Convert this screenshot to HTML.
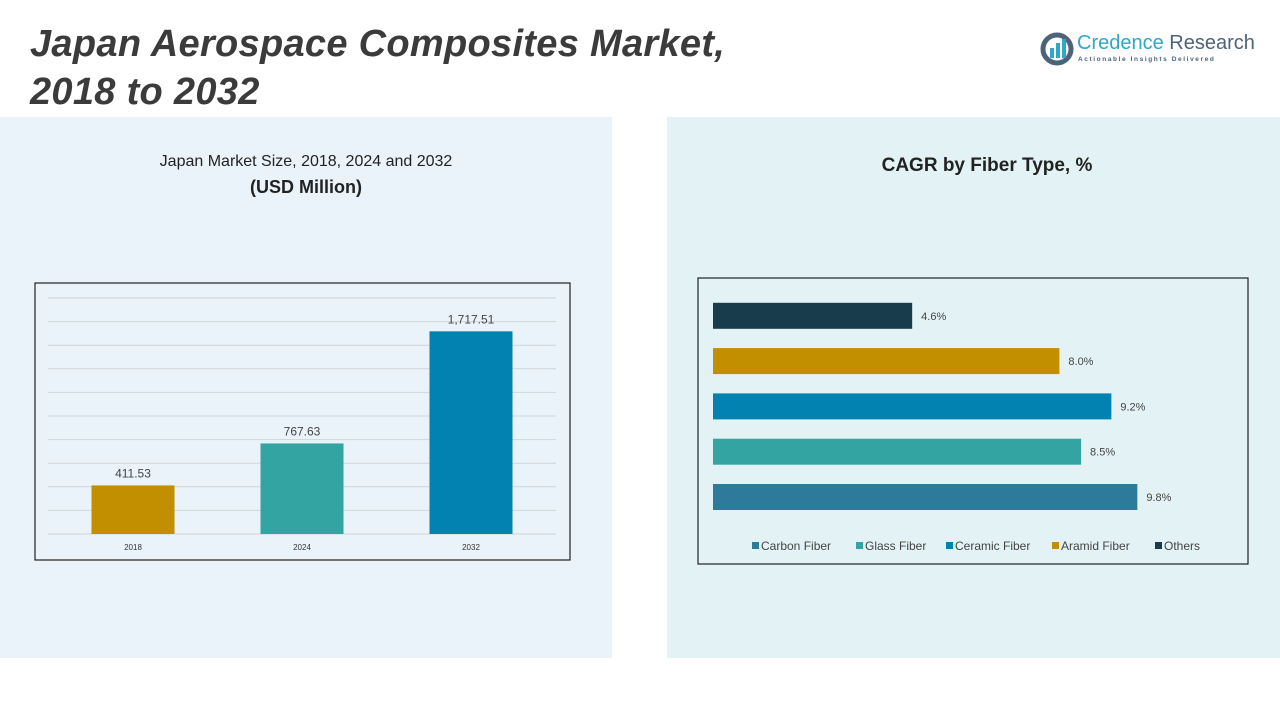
<!DOCTYPE html>
<html><head><meta charset="utf-8">
<style>
body{margin:0;width:1280px;height:720px;position:relative;background:#fff;font-family:"Liberation Sans",sans-serif;overflow:hidden}
.abs{position:absolute}
</style></head><body>
<div class="abs" style="left:0;top:117px;width:612px;height:541px;background:#eaf3f9"></div>
<div class="abs" style="left:667px;top:117px;width:613px;height:541px;background:#e3f3f5"></div>
<div class="abs" style="left:30px;top:20px;font-size:38px;font-weight:bold;font-style:italic;color:#3b3b3b;line-height:48px;letter-spacing:0.3px">Japan Aerospace Composites Market,<br>2018 to 2032</div>
<div class="abs" style="left:1040px;top:30px;width:215px;height:40px">
<svg width="34" height="34" style="position:absolute;left:0;top:2px"><circle cx="17" cy="17" r="14" fill="none" stroke="#4f6378" stroke-width="5"/><rect x="10" y="16" width="4" height="10" fill="#2fa7c9"/><rect x="16" y="11" width="4" height="15" fill="#2fa7c9"/><rect x="22" y="7" width="4" height="19" fill="#2fa7c9"/></svg>
<div class="abs" style="left:37px;top:2px;font-size:20px;color:#2fa7c9;white-space:nowrap">Credence <span style="color:#4f6378">Research</span></div>
<div class="abs" style="left:38px;top:26px;font-size:6.5px;letter-spacing:1.6px;color:#4f6378;font-weight:bold;white-space:nowrap">Actionable Insights Delivered</div>
</div>
<div class="abs" style="left:0;width:612px;top:153px;text-align:center;font-size:16px;color:#222">Japan Market Size, 2018, 2024 and 2032</div>
<div class="abs" style="left:0;width:612px;top:177px;text-align:center;font-size:18px;font-weight:bold;color:#222">(USD Million)</div>
<div class="abs" style="left:667px;width:640px;top:155px;text-align:center;font-size:19px;font-weight:bold;color:#222">CAGR by Fiber Type, %</div>
<svg class="abs" style="left:0;top:0" width="1280" height="720">
<rect x="35" y="283" width="535" height="277" fill="none" stroke="#222" stroke-width="1.2"/>
<g id="lg"></g>
<rect x="698" y="278" width="550" height="286" fill="none" stroke="#222" stroke-width="1.2"/>
<g id="rg"></g>
</svg>
<script>
const years=["2018","2024","2032"];
const marketValues=[411.53,767.63,1717.51];
const marketLabels=["411.53","767.63","1,717.51"];
const fiberTypes=["Carbon Fiber","Glass Fiber","Ceramic Fiber","Aramid Fiber","Others"];
const cagrValues=[9.8,8.5,9.2,8.0,4.6];
const cagrLabels=["9.8%","8.5%","9.2%","8.0%","4.6%"];
const NS="http://www.w3.org/2000/svg";
function mk(p,t,a,txt){const e=document.createElementNS(NS,t);for(const k in a)e.setAttribute(k,a[k]);if(txt!==undefined)e.textContent=txt;p.appendChild(e);return e;}
const lg=document.getElementById('lg');
const y0=534,yMax=2000,hPx=236;
const yS=v=>y0-v/yMax*hPx;
for(let i=0;i<=10;i++){const l=mk(lg,'line',{x1:48,x2:556,y1:yS(i*200),y2:yS(i*200),stroke:'#cfd6da','stroke-width':1});}
const colsL=["#c18f00","#34a4a3","#0282b0"];
const xC=i=>133+i*169;
years.forEach((y,i)=>{
 const b=mk(lg,'rect',{x:xC(i)-41.5,y:yS(marketValues[i]),width:83,height:y0-yS(marketValues[i]),fill:colsL[i]});
 
 const t=mk(lg,'text',{x:xC(i),y:yS(marketValues[i])-8,'text-anchor':'middle','font-size':12,fill:'#444'},marketLabels[i]);
 
 const x=mk(lg,'text',{x:xC(i),y:550,'text-anchor':'middle','font-size':8,fill:'#333'},y);
 
});
const rg=document.getElementById('rg');
const colsR=["#2e7a9a","#34a4a3","#0282b0","#c18f00","#183c4c"];
const x0=713,pxPer=43.3;
fiberTypes.forEach((f,i)=>{
 const yc=497-i*45.3;
 const b=mk(rg,'rect',{x:x0,y:yc-13,width:cagrValues[i]*pxPer,height:26,fill:colsR[i]});
 
 const t=mk(rg,'text',{x:x0+cagrValues[i]*pxPer+9,y:yc+4,'font-size':11,fill:'#444'},cagrLabels[i]);
 
});
let lx=752;
const legW=[104,90,106,103,60];
fiberTypes.forEach((f,i)=>{
 const r=mk(rg,'rect',{x:lx,y:542,width:7,height:7,fill:colsR[i]});
 
 const t=mk(rg,'text',{x:lx+9,y:550,'font-size':12,fill:'#444'},f);
 
 lx+=legW[i];
});
</script>
</body></html>
